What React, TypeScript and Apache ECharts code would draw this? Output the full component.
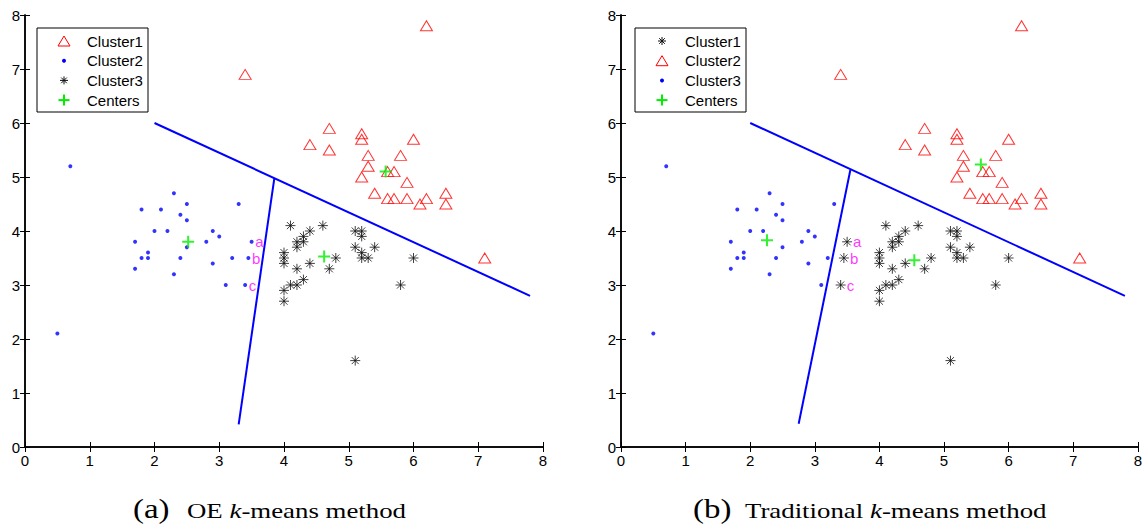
import React, { useEffect, useRef } from "react";
import * as echarts from "echarts";

type P = [number, number];

// Upper-right group of samples
const upperGroup: P[] = [
  [3.4, 6.9], [6.2, 7.8], [4.7, 5.9], [5.2, 5.8], [5.2, 5.7], [6.0, 5.7],
  [4.4, 5.6], [4.7, 5.5], [5.3, 5.4], [5.8, 5.4], [5.3, 5.2], [5.6, 5.1],
  [5.7, 5.1], [5.2, 5.0], [5.9, 4.9], [5.4, 4.7], [5.6, 4.6], [5.7, 4.6],
  [5.9, 4.6], [6.2, 4.6], [6.1, 4.5], [6.5, 4.7], [6.5, 4.5], [7.1, 3.5],
];

// Left group of samples
const leftGroup: P[] = [
  [0.7, 5.2], [2.3, 4.7], [2.5, 4.5], [3.3, 4.5], [1.8, 4.4], [2.1, 4.4],
  [2.4, 4.3], [2.5, 4.2], [2.0, 4.0], [2.2, 4.0], [2.9, 4.0], [3.0, 3.9],
  [1.7, 3.8], [2.8, 3.8], [2.5, 3.7], [1.8, 3.5], [1.9, 3.6], [1.9, 3.5],
  [2.4, 3.5], [3.2, 3.5], [1.7, 3.3], [2.9, 3.4], [2.3, 3.2], [3.1, 3.0],
  [0.5, 2.1],
];

// Middle group of samples
const middleGroup: P[] = [
  [4.1, 4.1], [4.4, 4.0], [4.6, 4.1], [5.1, 4.0], [5.2, 4.0], [5.2, 3.9],
  [4.3, 3.9], [4.2, 3.8], [4.3, 3.8], [4.2, 3.7], [5.1, 3.7], [5.4, 3.7],
  [4.0, 3.6], [4.0, 3.5], [4.0, 3.4], [4.4, 3.4], [4.2, 3.3], [4.7, 3.3],
  [4.8, 3.5], [5.2, 3.6], [5.2, 3.5], [5.3, 3.5], [6.0, 3.5], [5.8, 3.0],
  [4.1, 3.0], [4.2, 3.0], [4.3, 3.1], [4.0, 2.9], [4.0, 2.7], [5.1, 1.6],
];

// Boundary samples a, b, c (assigned differently by the two methods)
const boundaryPoints: P[] = [[3.5, 3.8], [3.45, 3.5], [3.4, 3.0]];
const boundaryNames = ["a", "b", "c"];

// Cluster centres
const centersOE: P[] = [[5.57, 5.1], [2.52, 3.8], [4.62, 3.53]];
const centersTrad: P[] = [[5.57, 5.23], [2.26, 3.83], [4.54, 3.46]];

// Decision boundaries
const oeUpperBoundary: P[] = [[2.0, 6.0], [7.8, 2.8]];
const oeLowerBoundary: P[] = [[3.85, 4.97], [3.3, 0.42]];
const tradUpperBoundary: P[] = [[2.0, 6.0], [7.8, 2.8]];
const tradLowerBoundary: P[] = [[3.55, 5.13], [2.75, 0.43]];

const legendNames = ["Cluster1", "Cluster2", "Cluster3", "Centers"];
const oeLegendMarkers = ["triangle", "dot", "star", "plus"];
const tradLegendMarkers = ["star", "triangle", "dot", "plus"];

const captionA = ["(a)", "OE ", "k", "-means method"];
const captionB = ["(b)", "Traditional ", "k", "-means method"];

const AXIS_MIN = 0;
const AXIS_MAX = 8;
const AXIS_STEP = 1;

const RED = "#ff0000";
const BLUE = "#0000ff";
const GREEN = "#00ee00";
const MAGENTA = "#ff00ff";
const SANS = "Liberation Sans, Arial, sans-serif";
const SERIF = "Liberation Serif, Times New Roman, serif";

const STAR_PATH =
  "path://M0 5 L10 5 M5 0 L5 10 M1.46 1.46 L8.54 8.54 M8.54 1.46 L1.46 8.54";
const PLUS_PATH = "path://M0 5 L10 5 M5 0 L5 10";

const gridBoxes = [
  { left: 25, top: 15, width: 518, height: 432 },
  { left: 621, top: 15, width: 518, height: 432 },
];

function triangleSeries(name: string, data: P[], axis: number) {
  return {
    name,
    type: "scatter",
    xAxisIndex: axis * 2,
    yAxisIndex: axis * 2,
    data,
    symbol: "triangle",
    symbolSize: [12, 10],
    itemStyle: { color: "none", borderColor: RED, borderWidth: 1 },
    z: 3,
  };
}

function dotSeries(name: string, data: P[], axis: number) {
  return {
    name,
    type: "scatter",
    xAxisIndex: axis * 2,
    yAxisIndex: axis * 2,
    data,
    symbol: "circle",
    symbolSize: 4,
    itemStyle: { color: BLUE },
    z: 3,
  };
}

function starSeries(name: string, data: P[], axis: number) {
  return {
    name,
    type: "scatter",
    xAxisIndex: axis * 2,
    yAxisIndex: axis * 2,
    data,
    symbol: STAR_PATH,
    symbolSize: 10,
    itemStyle: { color: "none", borderColor: "#111", borderWidth: 1 },
    z: 3,
  };
}

function centerSeries(data: P[], axis: number) {
  return {
    name: "Centers",
    type: "scatter",
    xAxisIndex: axis * 2,
    yAxisIndex: axis * 2,
    data,
    symbol: PLUS_PATH,
    symbolSize: 12,
    itemStyle: { color: "none", borderColor: GREEN, borderWidth: 2 },
    z: 5,
  };
}

function boundarySeries(data: P[], axis: number) {
  return {
    type: "line",
    xAxisIndex: axis * 2,
    yAxisIndex: axis * 2,
    data,
    showSymbol: false,
    symbol: "none",
    lineStyle: { color: BLUE, width: 2 },
    silent: true,
    z: 4,
  };
}

function letterSeries(axis: number, distance: number) {
  return {
    type: "scatter",
    xAxisIndex: axis * 2,
    yAxisIndex: axis * 2,
    data: boundaryPoints.map((p, i) => ({ value: p, name: boundaryNames[i] })),
    symbolSize: 1,
    itemStyle: { color: "rgba(0,0,0,0)" },
    label: {
      show: true,
      position: "right",
      distance,
      formatter: "{b}",
      color: MAGENTA,
      fontSize: 15,
      fontFamily: SANS,
    },
    silent: true,
    z: 6,
  };
}

function axesFor(gridIndex: number) {
  const base = {
    type: "value",
    gridIndex,
    min: AXIS_MIN,
    max: AXIS_MAX,
    interval: AXIS_STEP,
    splitLine: { show: false },
    axisLine: { show: true, lineStyle: { color: "#000", width: 1.5 } },
    axisTick: { show: true, inside: true, length: 5, lineStyle: { color: "#000", width: 1 } },
  };
  const label = { show: true, color: "#000", fontSize: 15, fontFamily: SANS };
  return {
    x: [
      { ...base, position: "bottom", axisLabel: { ...label, margin: 6 } },
      { ...base, position: "top", axisLabel: { show: false } },
    ],
    y: [
      { ...base, position: "left", axisLabel: { ...label, margin: 5 } },
      { ...base, position: "right", axisLabel: { show: false } },
    ],
  };
}

function markerGraphic(kind: string, cx: number, cy: number): any {
  if (kind === "triangle") {
    return {
      type: "polygon",
      shape: { points: [[cx - 6, cy + 5], [cx + 6, cy + 5], [cx, cy - 5]] },
      style: { fill: "none", stroke: RED, lineWidth: 1 },
    };
  }
  if (kind === "dot") {
    return { type: "circle", shape: { cx, cy, r: 2 }, style: { fill: BLUE } };
  }
  if (kind === "star") {
    const r = 4;
    const d = r * 0.707;
    const seg = (x1: number, y1: number, x2: number, y2: number) => ({
      type: "line",
      shape: { x1, y1, x2, y2 },
      style: { stroke: "#111", lineWidth: 1 },
    });
    return {
      type: "group",
      children: [
        seg(cx - r, cy, cx + r, cy),
        seg(cx, cy - r, cx, cy + r),
        seg(cx - d, cy - d, cx + d, cy + d),
        seg(cx + d, cy - d, cx - d, cy + d),
      ],
    };
  }
  const r = 5.5;
  return {
    type: "group",
    children: [
      { type: "line", shape: { x1: cx - r, y1: cy, x2: cx + r, y2: cy }, style: { stroke: GREEN, lineWidth: 2 } },
      { type: "line", shape: { x1: cx, y1: cy - r, x2: cx, y2: cy + r }, style: { stroke: GREEN, lineWidth: 2 } },
    ],
  };
}

function legendBox(left: number, top: number, markers: string[]): any {
  const children: any[] = [
    {
      type: "rect",
      shape: { x: left, y: top, width: 111, height: 84 },
      style: { fill: "#fff", stroke: "#000", lineWidth: 1 },
    },
  ];
  legendNames.forEach((name, i) => {
    const cy = top + 13 + i * 19.7;
    children.push(markerGraphic(markers[i], left + 27, cy));
    children.push({
      type: "text",
      x: left + 50,
      y: cy,
      style: {
        text: name,
        fill: "#000",
        fontSize: 15,
        fontFamily: SANS,
        align: "left",
        verticalAlign: "middle",
      },
    });
  });
  return { type: "group", z: 100, children };
}

function caption(parts: string[], left: number, restLeft: number): any {
  const s = 1.22;
  return {
    type: "group",
    children: [
      {
        type: "text",
        x: left,
        y: 509,
        scaleX: s,
        style: {
          text: parts[0],
          fill: "#000",
          fontSize: 27,
          fontFamily: SERIF,
          align: "left",
          verticalAlign: "middle",
        },
      },
      {
        type: "text",
        x: restLeft,
        y: 510,
        scaleX: s,
        style: {
          text: `{r|${parts[1]}}{i|${parts[2]}}{r|${parts[3]}}`,
          fill: "#000",
          fontSize: 22,
          fontFamily: SERIF,
          align: "left",
          verticalAlign: "middle",
          rich: {
            r: { fontSize: 22, fontFamily: SERIF, fill: "#000" },
            i: { fontSize: 22, fontFamily: SERIF, fontStyle: "italic", fill: "#000" },
          },
        },
      },
    ],
  };
}

export default function App() {
  const ref = useRef<HTMLDivElement>(null);

  useEffect(() => {
    if (!ref.current) return;
    const chart = echarts.init(ref.current, undefined, { renderer: "svg" });
    const a0 = axesFor(0);
    const a1 = axesFor(1);

    chart.setOption({
      animation: false,
      backgroundColor: "#fff",
      grid: gridBoxes.map((g) => ({ ...g, containLabel: false })),
      xAxis: [...a0.x, ...a1.x],
      yAxis: [...a0.y, ...a1.y],
      series: [
        // OE k-means
        triangleSeries("Cluster1", upperGroup, 0),
        dotSeries("Cluster2", [...leftGroup, ...boundaryPoints], 0),
        starSeries("Cluster3", middleGroup, 0),
        boundarySeries(oeUpperBoundary, 0),
        boundarySeries(oeLowerBoundary, 0),
        centerSeries(centersOE, 0),
        letterSeries(0, 3),
        // Traditional k-means
        starSeries("Cluster1", [...middleGroup, ...boundaryPoints], 1),
        triangleSeries("Cluster2", upperGroup, 1),
        dotSeries("Cluster3", leftGroup, 1),
        boundarySeries(tradUpperBoundary, 1),
        boundarySeries(tradLowerBoundary, 1),
        centerSeries(centersTrad, 1),
        letterSeries(1, 5.5),
      ],
      graphic: [
        legendBox(37, 28, oeLegendMarkers),
        legendBox(635, 28, tradLegendMarkers),
        caption(captionA, 133, 187),
        caption(captionB, 693, 745),
      ],
    });

    return () => chart.dispose();
  }, []);

  return (
    <div
      ref={ref}
      style={{ position: "fixed", left: 0, top: 0, width: 1145, height: 525, background: "#fff" }}
    />
  );
}
